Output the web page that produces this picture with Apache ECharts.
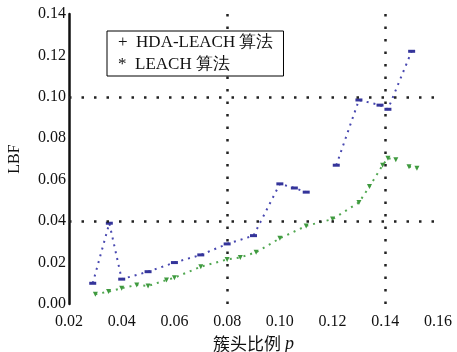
<!DOCTYPE html>
<html>
<head>
<meta charset="utf-8">
<script src="https://cdn.jsdelivr.net/npm/echarts@6/dist/echarts.min.js"></script>
<style>
  html, body { margin: 0; padding: 0; background: #fff; }
  #chart { width: 457px; height: 352px; }
</style>
</head>
<body>
<div id="chart"></div>
<script>
// 数据
var hdaX = [0.029, 0.0353, 0.040, 0.050, 0.060, 0.070, 0.080, 0.090, 0.100, 0.1055, 0.110, null, 0.1214, 0.130, 0.138, 0.141, 0.150];
var hdaY = [0.010, 0.039, 0.012, 0.0156, 0.020, 0.0237, 0.029, 0.033, 0.058, 0.056, 0.054, null, 0.067, 0.0985, 0.096, 0.094, 0.122];
var leachX = [0.030, 0.035, 0.040, 0.0457, 0.050, 0.057, 0.060, 0.070, 0.080, 0.085, 0.091, 0.100, 0.110, 0.120, 0.130, 0.134, 0.139, 0.141, 0.144, null, 0.149, 0.152];
var leachY = [0.0047, 0.006, 0.0076, 0.0092, 0.0087, 0.0116, 0.0127, 0.018, 0.0215, 0.0225, 0.025, 0.0317, 0.0377, 0.041, 0.049, 0.0567, 0.067, 0.0704, 0.0696, null, 0.0663, 0.0655];
var refX = [0.08, 0.14];
var refY = [0.04, 0.10];

function zip(xs, ys) {
    var out = [];
    for (var i = 0; i < xs.length; i++) {
        out.push(xs[i] === null ? [null, null] : [xs[i], ys[i]]);
    }
    return out;
}

var serif = '"Liberation Serif", "DejaVu Serif", serif';
var chart = echarts.init(document.getElementById('chart'));

var refLines = [];
for (var i = 0; i < refX.length; i++) refLines.push({ xAxis: refX[i] });
for (var j = 0; j < refY.length; j++) refLines.push({ yAxis: refY[j] });

var option = {
    animation: false,
    grid: { left: 69, right: 19, top: 14, bottom: 48, containLabel: false, outerBoundsMode: 'none' },
    legend: {
        orient: 'vertical',
        left: 107,
        top: 31,
        z: 20,
        padding: [3, 10, 3, 6],
        itemGap: 5,
        icon: 'none',
        itemWidth: 0,
        itemHeight: 17,
        borderColor: '#000',
        borderWidth: 1,
        backgroundColor: '#fff',
        textStyle: { fontFamily: serif, fontSize: 17, color: '#111' },
        formatter: function(name) {
            return (name === 'LEACH 算法' ? '*  ' : '+  ') + name;
        },
        data: ['HDA-LEACH 算法', 'LEACH 算法']
    },
    xAxis: {
        type: 'value',
        min: 0.02,
        max: 0.16,
        interval: 0.02,
        name: '{a|簇头比例 }{b|p}',
        nameLocation: 'middle',
        nameGap: 29,
        nameTextStyle: {
            rich: {
                a: { fontFamily: '"Noto Sans CJK SC", sans-serif', fontSize: 17, color: '#111' },
                b: { fontFamily: serif, fontStyle: 'italic', fontSize: 18, color: '#111' }
            }
        },
        axisLine: { show: false },
        axisTick: { show: false },
        splitLine: { show: false },
        axisLabel: {
            fontFamily: serif, fontSize: 16, color: '#111', margin: 10,
            formatter: function(v) { return v.toFixed(2); }
        }
    },
    yAxis: {
        type: 'value',
        min: 0,
        max: 0.14,
        interval: 0.02,
        name: 'LBF',
        nameLocation: 'middle',
        nameGap: 46,
        nameTextStyle: { fontFamily: serif, fontSize: 16, color: '#111' },
        axisLine: { show: true, lineStyle: { color: '#111', width: 2.5 } },
        axisTick: { show: false },
        splitLine: { show: false },
        axisLabel: {
            fontFamily: serif, fontSize: 16, color: '#111', margin: 3,
            formatter: function(v) { return v.toFixed(2); }
        }
    },
    series: [{
        name: 'HDA-LEACH 算法',
        type: 'line',
        data: zip(hdaX, hdaY),
        connectNulls: false,
        symbol: 'rect',
        symbolSize: [7, 3],
        itemStyle: { color: '#34349a' },
        lineStyle: { color: '#4848b0', width: 2, type: [2, 5] },
        markLine: {
            silent: true,
            symbol: 'none',
            label: { show: false },
            lineStyle: { color: '#222', width: 2.5, type: [2.5, 10] },
            data: refLines
        },
        z: 3
    }, {
        name: 'LEACH 算法',
        type: 'line',
        data: zip(leachX, leachY),
        connectNulls: false,
        symbol: 'triangle',
        symbolRotate: 180,
        symbolSize: 5,
        itemStyle: { color: '#3f9a3f' },
        lineStyle: { color: '#52a852', width: 2, type: [2, 5] },
        z: 3
    }]
};
chart.setOption(option);
</script>
</body>
</html>
